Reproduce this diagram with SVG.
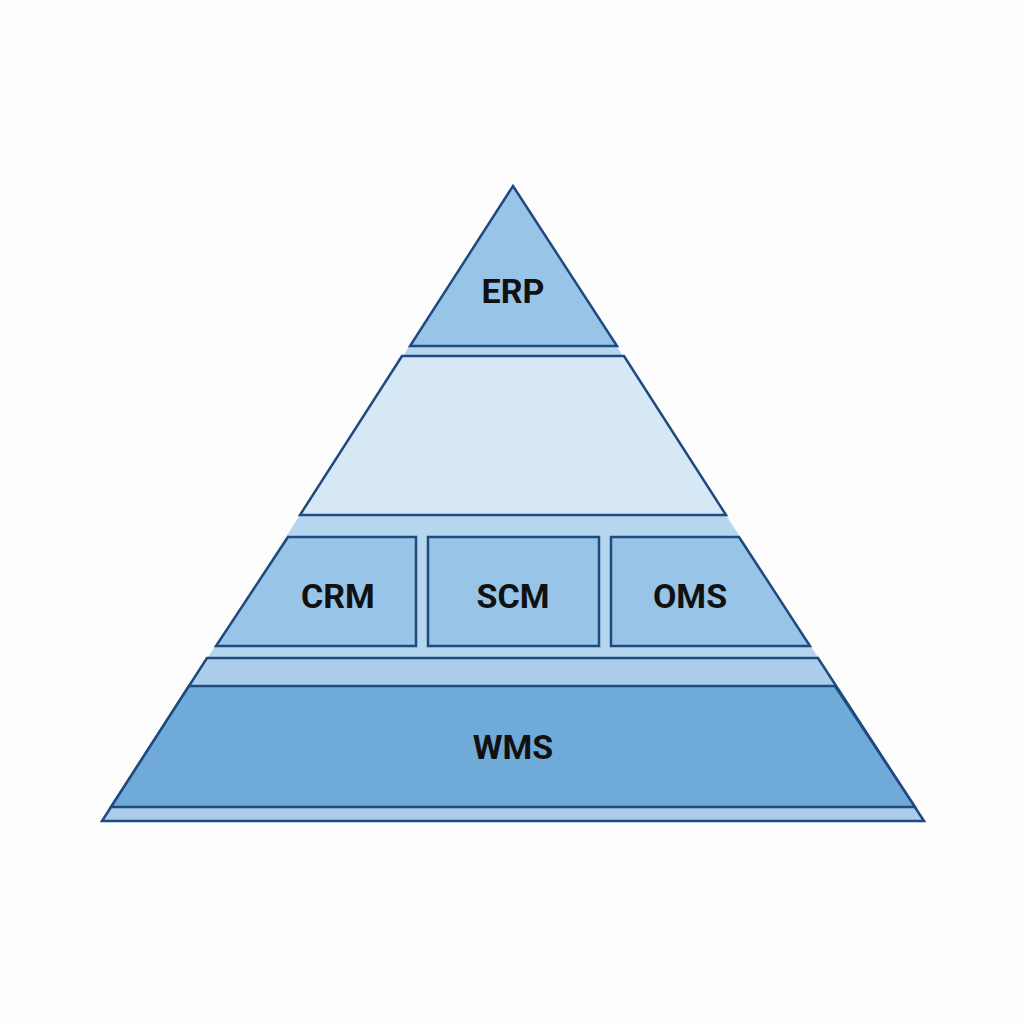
<svg xmlns="http://www.w3.org/2000/svg" width="1024" height="1024" viewBox="0 0 1024 1024">
<style>
.s{stroke:#1f4a80;stroke-width:2.5;stroke-linejoin:miter}
.m{fill:#98c4e8}
.t{font-family:Roboto,"Liberation Sans",sans-serif;font-weight:bold;font-size:34px;fill:#111;text-anchor:middle}
</style>
<rect width="1024" height="1024" fill="#fdfdfd"/>
<polygon points="513,186 924,821 102,821" fill="#b6d5ee"/>
<g id="erp"><polygon class="s m" points="513,186 617,346 410,346"/><text class="t" x="513" y="303">ERP</text></g>
<g id="mid"><polygon class="s" fill="#d6e7f6" points="402,356 624,356 726,515 300,515"/></g>
<g id="crm"><polygon class="s m" points="288,537 416,537 416,646 216,646"/><text class="t" x="338" y="608">CRM</text></g>
<g id="scm"><rect class="s m" x="428" y="537" width="171" height="109"/><text class="t" x="513" y="608">SCM</text></g>
<g id="oms"><polygon class="s m" points="611,537 739,537 810,646 611,646"/><text class="t" x="690" y="608">OMS</text></g>
<g id="base"><polygon class="s" fill="#abcde9" points="207,658 818,658 924,821 102,821"/></g>
<g id="wms"><polygon class="s" fill="#6faad8" points="189,686 835,686 915,807 111,807"/><text class="t" x="513" y="759">WMS</text></g>
<g id="connectors"/>
</svg>
